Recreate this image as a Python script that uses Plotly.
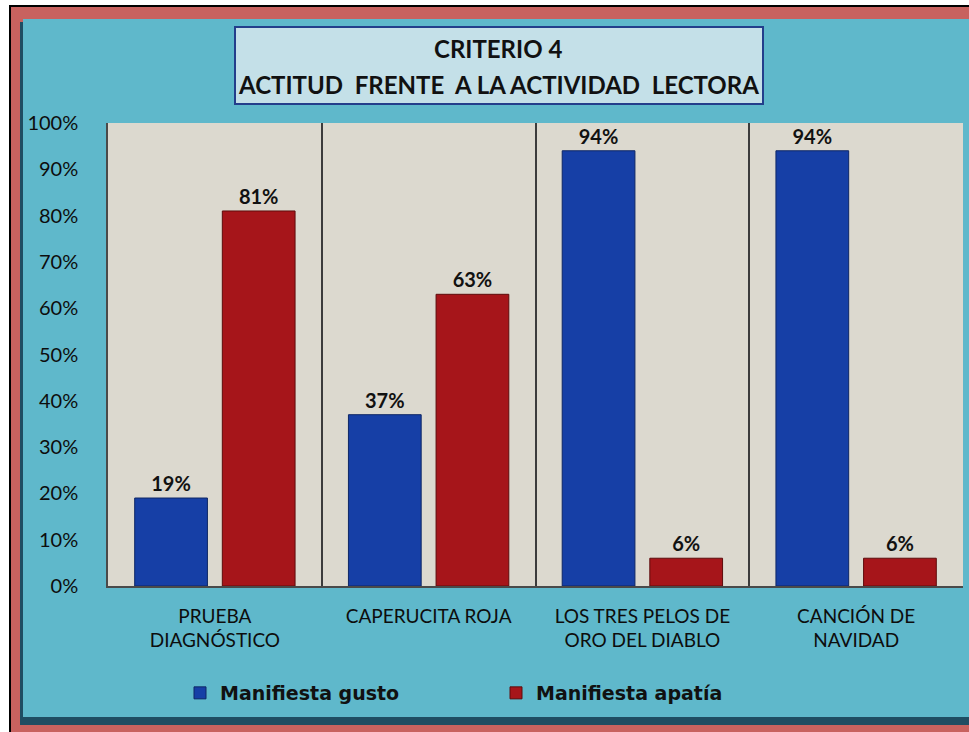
import plotly.graph_objects as go

# Criterio 4 - actitud frente a la actividad lectora

categories = ["PRUEBA<br>DIAGNÓSTICO", "CAPERUCITA ROJA",
              "LOS TRES PELOS DE<br>ORO DEL DIABLO", "CANCIÓN DE<br>NAVIDAD"]
gusto = [0.19, 0.37, 0.94, 0.94]
apatia = [0.81, 0.63, 0.06, 0.06]
series_names = ["Manifiesta gusto", "Manifiesta apatía"]
title_lines = ["CRITERIO 4", "ACTITUD  FRENTE  A LA ACTIVIDAD  LECTORA"]

W, H = 969, 732
L, R, T, B = 108, 963, 123, 586   # plot area in pixels


def fx(px):
    return (px - L) / (R - L)


def fy(py):
    return (B - py) / (B - T)


def rect(x0, y0, x1, y1, fill, line_color=None, line_width=0):
    return dict(type="rect", xref="paper", yref="paper", layer="below",
                x0=fx(x0), x1=fx(x1), y0=fy(y1), y1=fy(y0),
                fillcolor=fill,
                line=dict(color=line_color or fill, width=line_width))


label_font = dict(family="Lato", size=20, color="#111111", weight="bold")

traces = [
    go.Bar(x=categories, y=gusto, name=series_names[0],
           marker=dict(color="#163FA6", line=dict(color="#0E2766", width=1)),
           texttemplate="%{y:.0%}", textposition="outside",
           textfont=label_font, cliponaxis=False),
    go.Bar(x=categories, y=apatia, name=series_names[1],
           marker=dict(color="#A6151A", line=dict(color="#5E0C0C", width=1)),
           texttemplate="%{y:.0%}", textposition="outside",
           textfont=label_font, cliponaxis=False),
]

layout = go.Layout(
    width=W, height=H,
    margin=dict(l=L, r=W - R, t=T, b=H - B, pad=0),
    paper_bgcolor="white",
    plot_bgcolor="rgba(0,0,0,0)",
    barmode="group",
    bargap=0.18,
    bargroupgap=0.17,
    font=dict(family="Lato", color="#111111"),
    xaxis=dict(
        tickson="boundaries",
        showgrid=True, gridcolor="#3c3c3c", gridwidth=1.5,
        showline=True, linecolor="#4a4a4a", linewidth=1.5,
        ticks="", tickfont=dict(family="Lato", size=19, color="#0d0d0d"),
        ticklabelstandoff=12,
    ),
    yaxis=dict(
        range=[0, 1], dtick=0.1, tickformat=".0%",
        showgrid=False, zeroline=False,
        showline=True, linecolor="#4a4a4a", linewidth=1.5,
        ticks="", tickfont=dict(family="Lato", size=20, color="#0d0d0d"),
        ticklabelstandoff=24,
    ),
    showlegend=True,
    legend=dict(
        orientation="h", x=fx(180), xanchor="left", y=fy(693), yanchor="middle",
        bgcolor="rgba(0,0,0,0)", itemwidth=30,
        entrywidth=271, entrywidthmode="pixels",
        font=dict(family="DejaVu Sans", size=19, color="#111111", weight="bold"),
    ),
)

fig = go.Figure(traces, layout)

# frame, teal panel, plot background, title box
fig.add_shape(**rect(9, 5, W, H, "#000000"))
fig.add_shape(**rect(11, 7, W, H, "#C8625F"))
fig.add_shape(**rect(20, 22, W, 725, "#1F4D62"))
fig.add_shape(**rect(23, 19, W, 717, "#5FB8CB"))
fig.add_shape(**rect(L, T, R, B, "#DCD9CF"))
fig.add_shape(**rect(235, 27, 763, 104, "#C4E0E8", "#233E8B", 2))

for text, py in zip(title_lines, [48, 85]):
    fig.add_annotation(xref="paper", yref="paper", x=fx(498), y=fy(py),
                       xanchor="center", yanchor="middle",
                       text=text, showarrow=False,
                       font=dict(family="Lato", size=24, color="#111111", weight="bold"))

fig.write_html("out.html", config={"displayModeBar": False},
               post_script="document.body.style.margin='0';")
